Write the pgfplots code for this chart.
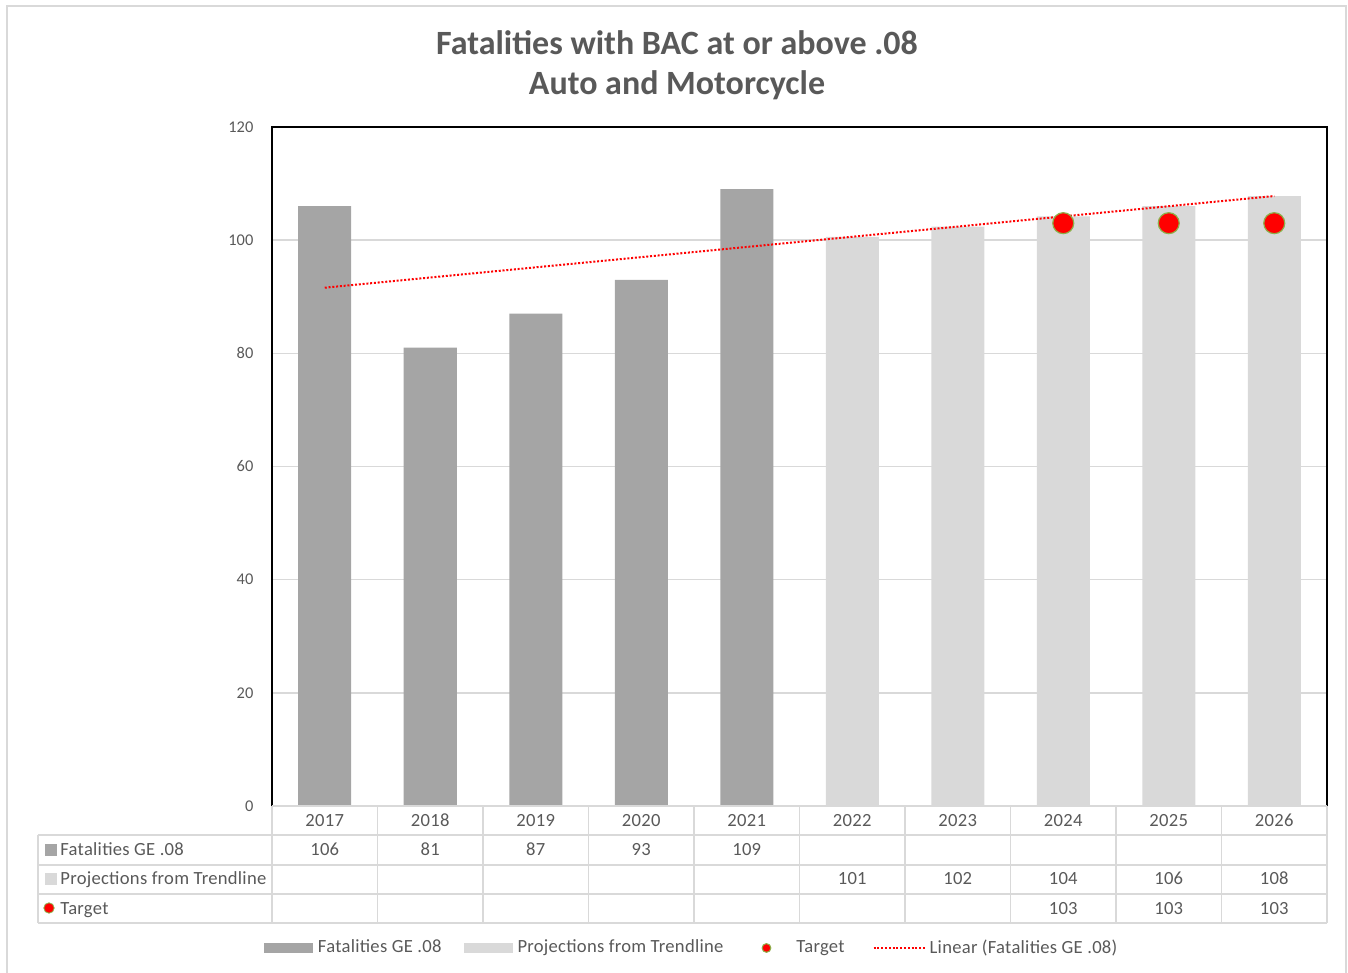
\documentclass[border=0pt]{standalone}
\usepackage{fontspec}
\setmainfont{Carlito}
\usepackage{pgfplots}
\pgfplotsset{compat=1.18}
\definecolor{dark}{HTML}{A5A5A5}
\definecolor{light}{HTML}{D9D9D9}
\definecolor{txt}{HTML}{595959}
\definecolor{gridc}{HTML}{D9D9D9}
\definecolor{tgtedge}{HTML}{8CB04A}
\newcommand{\tabfont}{\fontsize{9.3}{11}\selectfont\addfontfeatures{LetterSpace=1.5}}
\begin{document}
\begin{tikzpicture}
\begin{axis}[
  at={(0,0)}, anchor=south west,
  width=527.5pt, height=339.5pt, scale only axis,
  xmin=-0.5, xmax=9.5, ymin=0, ymax=120,
  ytick={0,20,...,120},
  xtick={0,...,9},
  xticklabels={2017,2018,2019,2020,2021,2022,2023,2024,2025,2026},
  tick style={draw=none},
  ymajorgrids, grid style={gridc, line width=0.75pt},
  axis line style={draw=none},
  ticklabel style={text=txt},
  yticklabel style={font=\fontsize{8.2}{10}\selectfont, xshift=-5.8pt},
  xticklabel style={font=\tabfont, anchor=base, inner sep=0pt, yshift=-10pt},
  /pgf/number format/assume math mode=true,
  clip=false,
  legend columns=4,
  legend style={at={(-0.0076,-0.2091)}, anchor=west, draw=none, fill=none,
    inner sep=0pt, outer sep=0pt, font=\tabfont, text=txt,
    nodes={inner sep=1pt},
    /tikz/every even column/.append style={column sep=10pt}},
  legend cell align=left,
]
\addplot[ybar, bar width=26.5pt, bar shift=0pt, fill=dark, draw=none, forget plot]
  coordinates {(0,106) (1,81) (2,87) (3,93) (4,109)};
\addplot[ybar, bar width=26.5pt, bar shift=0pt, fill=light, draw=none, forget plot]
  coordinates {(5,100.6) (6,102.4) (7,104.2) (8,106.0) (9,107.8)};
\addplot[red, line width=1pt, dash pattern=on 1pt off 0.9pt, forget plot]
  coordinates {(0,91.6) (9,107.8)};
\addplot[only marks, mark=*, mark size=5.25pt, mark options={fill=red, draw=tgtedge, line width=0.6pt}, forget plot]
  coordinates {(7,103) (8,103) (9,103)};
\draw[black, line width=0.9pt] (rel axis cs:0,0) -- (rel axis cs:0,1) -- (rel axis cs:1,1) -- (rel axis cs:1,0);

\addlegendimage{legend image code/.code={\path[draw=none, fill=none] (0pt,0pt) -- (26pt,0pt); \fill[dark, draw=none] (0pt,-2.5pt) rectangle (24.5pt,2.5pt);}}
\addlegendentry{Fatalities GE .08}
\addlegendimage{legend image code/.code={\path[draw=none, fill=none] (0pt,0pt) -- (26pt,0pt); \fill[light, draw=none] (0pt,-2.5pt) rectangle (24.5pt,2.5pt);}}
\addlegendentry{Projections from Trendline}
\addlegendimage{legend image code/.code={\path[draw=none, fill=none] (0pt,0pt) rectangle (24.5pt,0pt); \fill[red, draw=tgtedge, line width=0.5pt] (10.5pt,0pt) circle (2.2pt);}}
\addlegendentry{Target}
\addlegendimage{legend image code/.code={\path[draw=none, fill=none] (-3.5pt,0pt) -- (27pt,0pt); \draw[red, line width=1pt, dash pattern=on 1pt off 0.9pt] (0pt,0pt) -- (25.5pt,0pt);}}
\addlegendentry{Linear (Fatalities GE .08)}
\end{axis}
\begin{scope}[x=0.5pt,y=-0.5pt,shift={(-136pt,403pt)}]
% outer frame
\draw[gridc, line width=0.8pt] (7,973) -- (7,6) -- (1346,6) -- (1346,973);
% title
\node[font=\fontsize{17}{20}\selectfont\bfseries, text=txt] at (677,43) {Fatalities with BAC at or above .08};
\node[font=\fontsize{17}{20}\selectfont\bfseries, text=txt] at (677,85) {Auto and Motorcycle};
% table grid
\begin{scope}[gridc, line width=0.9pt]
\draw (272,806) -- (1327,806);
\foreach \yy in {835,865,894,923} \draw (38,\yy) -- (1327,\yy);
\draw (38,835) -- (38,923);
\foreach \k in {0,...,10} \draw ({272+105.5*\k},806) -- ({272+105.5*\k},923);
\end{scope}
% row labels
\fill[dark] (45,844) rectangle (57,856);
\fill[light] (45,873) rectangle (57,885);
\fill[red, draw=tgtedge, line width=0.4pt] (49,908) circle (2.6pt);
\begin{scope}[font=\tabfont, text=txt]
\node[anchor=base west, inner sep=0pt] at (60,856) {Fatalities GE .08};
\node[anchor=base west, inner sep=0pt] at (60,885) {Projections from Trendline};
\node[anchor=base west, inner sep=0pt] at (60,915) {Target};
\foreach \k/\v in {0/106,1/81,2/87,3/93,4/109}
  \node[anchor=base, inner sep=0pt] at ({324.75+105.5*\k},856) {\v};
\foreach \k/\v in {5/101,6/102,7/104,8/106,9/108}
  \node[anchor=base, inner sep=0pt] at ({324.75+105.5*\k},885) {\v};
\foreach \k/\v in {7/103,8/103,9/103}
  \node[anchor=base, inner sep=0pt] at ({324.75+105.5*\k},915) {\v};
\end{scope}
\pgfresetboundingbox
\path (0,0) rectangle (1348,973);
\end{scope}
\end{tikzpicture}
\end{document}
